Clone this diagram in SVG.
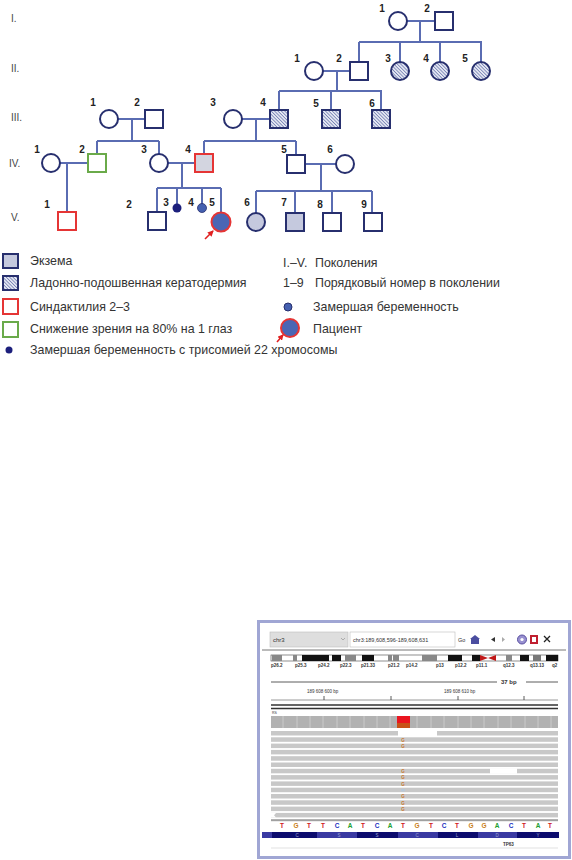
<svg xmlns="http://www.w3.org/2000/svg" width="572" height="860" viewBox="0 0 572 860">
<defs>
<pattern id="hatch" width="2.4" height="2.4" patternUnits="userSpaceOnUse" patternTransform="rotate(-45)">
<rect width="2.4" height="2.4" fill="#e4e7f2"/>
<line x1="0" y1="0" x2="0" y2="2.4" stroke="#45549a" stroke-width="1.1"/>
</pattern>
<marker id="arr" markerWidth="6" markerHeight="6" refX="5" refY="3" orient="auto" markerUnits="userSpaceOnUse">
<path d="M0,0 L6,3 L0,6 Z" fill="#e02020"/>
</marker>
</defs>
<style>
.ln{stroke:#5a6cb2;stroke-width:2;fill:none}
.sh{stroke:#272f6e;stroke-width:2;fill:#fff}
.hat{fill:url(#hatch)}
.ecz{fill:#c5c9de}
.red{stroke:#e53535}
.grn{stroke:#6aaa4a}
.num{font-family:"Liberation Sans",Arial,sans-serif;font-size:10px;font-weight:bold;fill:#222;text-anchor:middle}
.gen{font-family:"Liberation Sans",Arial,sans-serif;font-size:10px;fill:#444}
.lg{font-family:"Liberation Sans",Arial,sans-serif;font-size:12.4px;fill:#333}
.igv{font-family:"Liberation Sans",Arial,sans-serif;fill:#333}
.band{font-family:"Liberation Sans",Arial,sans-serif;font-size:4.5px;font-weight:bold;fill:#333}
.nt{font-family:"Liberation Sans",Arial,sans-serif;font-size:6.5px;font-weight:bold;text-anchor:middle}
.read{fill:#c8c8c8}
.mm{font-family:"Liberation Sans",Arial,sans-serif;font-size:4.5px;font-weight:bold;fill:#c87830;text-anchor:middle}
.arr{stroke:#e02020;stroke-width:1.6;fill:none}
</style>

<!-- generation labels -->
<g id="generations">
<text class="gen" x="11" y="22">I.</text>
<text class="gen" x="11" y="72">II.</text>
<text class="gen" x="11" y="121">III.</text>
<text class="gen" x="9" y="167">IV.</text>
<text class="gen" x="11" y="221">V.</text>
</g>

<!-- connectors -->
<g id="connectors">
<path class="ln" d="M407,21 H435 M420,21 V42 M359,42 H482 M359,42 V62 M400,42 V62 M440,42 V62 M481,42 V62"/>
<path class="ln" d="M323,71 H350 M337,71 V91 M279,91 H382 M279,91 V110 M331,91 V110 M381,91 V110"/>
<path class="ln" d="M118,119 H145 M132,119 V141 M97,141 H159 M97,141 V154 M159,141 V154"/>
<path class="ln" d="M242,119 H270 M256,119 V141 M204,141 H296 M204,141 V154 M296,141 V155"/>
<path class="ln" d="M60,163 H88 M67,163 V212"/>
<path class="ln" d="M168,163 H195 M182,163 V188 M157,188 H221 M157,188 V212 M177,188 V204 M202,188 V204 M221,188 V213"/>
<path class="ln" d="M305,164 H336 M321,164 V191 M256,191 H372 M256,191 V213 M295,191 V213 M332,191 V213 M372,191 V213"/>
</g>

<!-- Generation I -->
<g id="I-1"><circle class="sh" cx="398" cy="21" r="9"/><text class="num" x="382" y="12">1</text></g>
<g id="I-2"><rect class="sh" x="435" y="12" width="18" height="18"/><text class="num" x="427" y="12">2</text></g>

<!-- Generation II -->
<g id="II-1"><circle class="sh" cx="314" cy="71" r="9"/><text class="num" x="297" y="62">1</text></g>
<g id="II-2"><rect class="sh" x="350" y="62" width="18" height="18"/><text class="num" x="339" y="62">2</text></g>
<g id="II-3"><circle class="sh hat" cx="400" cy="71" r="9"/><text class="num" x="388" y="62">3</text></g>
<g id="II-4"><circle class="sh hat" cx="440" cy="71" r="9"/><text class="num" x="426" y="62">4</text></g>
<g id="II-5"><circle class="sh hat" cx="481" cy="71" r="9"/><text class="num" x="465" y="62">5</text></g>

<!-- Generation III -->
<g id="III-1"><circle class="sh" cx="109" cy="119" r="9"/><text class="num" x="93" y="106">1</text></g>
<g id="III-2"><rect class="sh" x="145" y="110" width="18" height="18"/><text class="num" x="137" y="106">2</text></g>
<g id="III-3"><circle class="sh" cx="233" cy="119" r="9"/><text class="num" x="213" y="106">3</text></g>
<g id="III-4"><rect class="sh hat" x="270" y="110" width="18" height="18"/><text class="num" x="263" y="106">4</text></g>
<g id="III-5"><rect class="sh hat" x="322" y="110" width="18" height="18"/><text class="num" x="316" y="107">5</text></g>
<g id="III-6"><rect class="sh hat" x="372" y="110" width="18" height="18"/><text class="num" x="372" y="107">6</text></g>

<!-- Generation IV -->
<g id="IV-1"><circle class="sh" cx="51" cy="163" r="9"/><text class="num" x="37" y="153">1</text></g>
<g id="IV-2"><rect class="sh grn" x="88" y="154" width="18" height="18"/><text class="num" x="82" y="153">2</text></g>
<g id="IV-3"><circle class="sh" cx="159" cy="163" r="9"/><text class="num" x="144" y="153">3</text></g>
<g id="IV-4"><rect class="sh red" x="195" y="154" width="18" height="18" style="fill:#d3d5e0"/><text class="num" x="188" y="153">4</text></g>
<g id="IV-5"><rect class="sh" x="287" y="155" width="18" height="18"/><text class="num" x="284" y="153">5</text></g>
<g id="IV-6"><circle class="sh" cx="345" cy="164" r="9"/><text class="num" x="330" y="153">6</text></g>

<!-- Generation V -->
<g id="V-1"><rect class="sh red" x="58" y="212" width="18" height="18"/><text class="num" x="47" y="208">1</text></g>
<g id="V-2"><rect class="sh" x="148" y="212" width="18" height="18"/><text class="num" x="129" y="208">2</text></g>
<g id="V-3"><circle cx="177" cy="208" r="4.5" fill="#1c1f7c"/><text class="num" x="166" y="206">3</text></g>
<g id="V-4"><circle cx="202" cy="208" r="4.5" fill="#4560b0" stroke="#272f6e" stroke-width="0.8"/><text class="num" x="191" y="206">4</text></g>
<g id="V-5"><circle cx="221" cy="222" r="9.5" fill="#4a66b4" stroke="#e53535" stroke-width="2"/><text class="num" x="212" y="206">5</text>
<line class="arr" x1="205" y1="239" x2="213" y2="231" marker-end="url(#arr)"/></g>
<g id="V-6"><circle class="sh ecz" cx="256" cy="222" r="9"/><text class="num" x="247" y="206">6</text></g>
<g id="V-7"><rect class="sh ecz" x="286" y="213" width="18" height="18"/><text class="num" x="284" y="206">7</text></g>
<g id="V-8"><rect class="sh" x="323" y="213" width="18" height="18"/><text class="num" x="320" y="208">8</text></g>
<g id="V-9"><rect class="sh" x="364" y="213" width="18" height="18"/><text class="num" x="364" y="208">9</text></g>

<!-- Legend -->
<g id="legend">
<rect class="sh ecz" x="3" y="254" width="15" height="14"/>
<text class="lg" x="30" y="265">Экзема</text>
<rect class="sh hat" x="3" y="276" width="15" height="14"/>
<text class="lg" x="30" y="287">Ладонно-подошвенная кератодермия</text>
<rect class="sh red" x="3" y="299" width="15" height="15"/>
<text class="lg" x="30" y="311">Синдактилия 2–3</text>
<rect class="sh grn" x="3" y="322" width="15" height="15"/>
<text class="lg" x="30" y="333">Снижение зрения на 80% на 1 глаз</text>
<circle cx="9" cy="350" r="3.5" fill="#1c1f7c"/>
<text class="lg" x="30" y="354">Замершая беременность с трисомией 22 хромосомы</text>
<text class="lg" x="283" y="267">I.–V.</text>
<text class="lg" x="315" y="267">Поколения</text>
<text class="lg" x="283" y="287">1–9</text>
<text class="lg" x="315" y="287">Порядковый номер в поколении</text>
<circle cx="288" cy="307" r="4" fill="#4560b0" stroke="#272f6e" stroke-width="1"/>
<text class="lg" x="313" y="311">Замершая беременность</text>
<circle cx="290" cy="328" r="9" fill="#4a66b4" stroke="#e53535" stroke-width="2"/>
<text class="lg" x="313" y="333">Пациент</text>
<line class="arr" x1="277" y1="342" x2="283" y2="335" marker-end="url(#arr)"/>
</g>

<!-- IGV screenshot -->
<g id="igv">
<rect x="258.5" y="621.5" width="311" height="236" fill="#fff" stroke="#a0a6d4" stroke-width="3"/>
<rect x="270" y="632" width="78" height="15" fill="#dedede" stroke="#bdbdbd" stroke-width="0.6"/>
<text class="igv" x="273" y="642" font-size="6">chr3</text>
<path d="M341,638 l2,2 l2,-2" stroke="#888" stroke-width="0.6" fill="none"/>
<rect x="350" y="632" width="105" height="15" fill="#fff" stroke="#bdbdbd" stroke-width="0.6"/>
<text class="igv" x="353" y="642" font-size="5.5">chr3:189,608,596-189,608,631</text>
<text class="igv" x="458" y="642" font-size="5.5">Go</text>
<path d="M470,639 l5,-4 l5,4 z M471,639 h8 v5 h-8 z" fill="#4b4ea0"/>
<path d="M495,637 l-4,2.5 l4,2.5 z" fill="#333"/>
<path d="M502,637 l3,2.5 l-3,2.5 z" fill="#aaa"/>
<circle cx="522" cy="639.5" r="4.5" fill="#9890d0" stroke="#5a50a0" stroke-width="1"/>
<circle cx="522" cy="639.5" r="1.6" fill="#fff"/>
<rect x="530" y="635" width="8" height="9" fill="#c02030"/>
<rect x="532" y="637" width="4" height="5" fill="#fff"/>
<path d="M544,636 l6,6 M550,636 l-6,6" stroke="#222" stroke-width="1.3"/>
<line x1="262" y1="650" x2="566" y2="650" stroke="#777" stroke-width="1"/>
<rect x="271" y="655" width="287" height="6" fill="#fff" stroke="#444" stroke-width="0.6"/>
<rect x="272" y="655" width="10" height="6" fill="#888"/>
<rect x="293" y="655" width="4" height="6" fill="#888"/>
<rect x="302" y="655" width="27" height="6" fill="#111"/>
<rect x="332" y="655" width="9" height="6" fill="#111"/>
<rect x="345" y="655" width="11" height="6" fill="#888"/>
<rect x="362" y="655" width="12" height="6" fill="#111"/>
<rect x="388" y="655" width="4" height="6" fill="#888"/>
<rect x="393" y="655" width="6" height="6" fill="#888"/>
<rect x="422" y="655" width="15" height="6" fill="#888"/>
<rect x="448" y="655" width="14" height="6" fill="#111"/>
<rect x="472" y="655" width="8" height="6" fill="#111"/>
<path d="M480,655 L488,658 L480,661 Z M496,655 L488,658 L496,661 Z" fill="#c01818"/>
<rect x="506" y="655" width="6" height="6" fill="#888"/>
<rect x="520" y="655" width="9" height="6" fill="#111"/>
<rect x="533" y="655" width="8" height="6" fill="#777"/>
<rect x="546" y="655" width="12" height="6" fill="#111"/>
<text class="band" x="271" y="667">p26.2</text>
<text class="band" x="295" y="667">p25.3</text>
<text class="band" x="318" y="667">p24.2</text>
<text class="band" x="340" y="667">p22.3</text>
<text class="band" x="361" y="667">p21.33</text>
<text class="band" x="388" y="667">p21.2</text>
<text class="band" x="406" y="667">p14.2</text>
<text class="band" x="436" y="667">p13</text>
<text class="band" x="455" y="667">p12.2</text>
<text class="band" x="476" y="667">p11.1</text>
<text class="band" x="503" y="667">q12.3</text>
<text class="band" x="530" y="667">q13.13</text>
<text class="band" x="552" y="667">q2</text>
<line x1="271" y1="682" x2="497" y2="682" stroke="#333" stroke-width="0.8"/>
<text class="igv" x="501" y="684" font-size="6" font-weight="bold">37 bp</text>
<line x1="526" y1="682" x2="558" y2="682" stroke="#333" stroke-width="0.8"/>
<text class="igv" x="307" y="693" font-size="4.5">189 608 600 bp</text>
<text class="igv" x="444" y="693" font-size="4.5">189 608 610 bp</text>
<line x1="271" y1="700" x2="558" y2="700" stroke="#555" stroke-width="0.6"/>
<path d="M324,696 V700 M391,696 V700 M458,696 V700 M524,696 V700" stroke="#333" stroke-width="0.8"/>
<line x1="271" y1="705" x2="558" y2="705" stroke="#333" stroke-width="1.5"/>
<line x1="271" y1="708.5" x2="558" y2="708.5" stroke="#333" stroke-width="1.5"/>
<text class="igv" x="272" y="714" font-size="3.5">RS</text>
<rect x="271" y="716" width="287" height="12" fill="#b2b2b2"/>
<path d="M283,716 V728 M297,716 V728 M310,716 V728 M323,716 V728 M337,716 V728 M350,716 V728 M364,716 V728 M377,716 V728 M390,716 V728 M417,716 V728 M431,716 V728 M444,716 V728 M458,716 V728 M471,716 V728 M484,716 V728 M498,716 V728 M511,716 V728 M525,716 V728 M538,716 V728 M551,716 V728" stroke="#d2d2d2" stroke-width="0.8"/>
<rect x="397" y="716" width="13" height="7" fill="#ea1520"/>
<rect x="397" y="723" width="13" height="5" fill="#c85218"/>
<rect class="read" x="271" y="731" width="287" height="4.5"/>
<rect x="398" y="730.5" width="39" height="5.5" fill="#fff"/>
<rect class="read" x="271" y="737.3" width="287" height="4.5"/>
<rect class="read" x="271" y="743.6" width="287" height="4.5"/>
<rect class="read" x="271" y="749.9" width="287" height="4.5"/>
<rect class="read" x="271" y="756.2" width="287" height="4.5"/>
<rect class="read" x="271" y="762.5" width="287" height="4.5"/>
<rect class="read" x="271" y="768.8" width="287" height="4.5"/>
<rect x="490" y="768.3" width="27" height="5.5" fill="#fff"/>
<rect class="read" x="271" y="775.1" width="287" height="4.5"/>
<rect class="read" x="271" y="781.4" width="287" height="4.5"/>
<rect class="read" x="271" y="787.7" width="287" height="4.5"/>
<rect class="read" x="271" y="794" width="287" height="4.5"/>
<rect class="read" x="271" y="800.3" width="287" height="4.5"/>
<rect class="read" x="271" y="806.6" width="287" height="4.5"/>
<rect class="read" x="271" y="812.9" width="287" height="4.5"/>
<path d="M271,812.9 h5 l-2,2.25 l2,2.25 h-5 z" fill="#fff"/>
<rect x="271" y="819.2" width="287" height="2" fill="#a0a0a0"/>
<rect x="401" y="789" width="4" height="2.5" fill="#b8c8d8"/>
<text class="mm" x="403" y="741.5">G</text>
<text class="mm" x="403" y="747.8">G</text>
<text class="mm" x="403" y="773">G</text>
<text class="mm" x="403" y="779.3">G</text>
<text class="mm" x="403" y="785.6">G</text>
<text class="mm" x="403" y="798.2">G</text>
<text class="mm" x="403" y="804.5">G</text>
<text class="mm" x="403" y="810.8">G</text>
<g id="sequence">
<text class="nt" x="282" y="828" fill="#d02020">T</text>
<text class="nt" x="296" y="828" fill="#c88020">G</text>
<text class="nt" x="309" y="828" fill="#d02020">T</text>
<text class="nt" x="323" y="828" fill="#d02020">T</text>
<text class="nt" x="337" y="828" fill="#2030c0">C</text>
<text class="nt" x="350" y="828" fill="#20a030">A</text>
<text class="nt" x="363" y="828" fill="#d02020">T</text>
<text class="nt" x="377" y="828" fill="#2030c0">C</text>
<text class="nt" x="390" y="828" fill="#20a030">A</text>
<text class="nt" x="403" y="828" fill="#d02020">T</text>
<text class="nt" x="417" y="828" fill="#c88020">G</text>
<text class="nt" x="431" y="828" fill="#d02020">T</text>
<text class="nt" x="444" y="828" fill="#2030c0">C</text>
<text class="nt" x="457" y="828" fill="#d02020">T</text>
<text class="nt" x="471" y="828" fill="#c88020">G</text>
<text class="nt" x="484" y="828" fill="#c88020">G</text>
<text class="nt" x="497" y="828" fill="#20a030">A</text>
<text class="nt" x="511" y="828" fill="#2030c0">C</text>
<text class="nt" x="524" y="828" fill="#d02020">T</text>
<text class="nt" x="538" y="828" fill="#20a030">A</text>
<text class="nt" x="550" y="828" fill="#d02020">T</text>
</g>
<rect x="262" y="832" width="297" height="6" fill="#3a3aa2"/>
<rect x="272" y="832" width="45" height="6" fill="#0c0c6e"/>
<rect x="357" y="832" width="41" height="6" fill="#0c0c6e"/>
<rect x="438" y="832" width="40" height="6" fill="#0c0c6e"/>
<rect x="517" y="832" width="42" height="6" fill="#0c0c6e"/>
<g font-family="Liberation Sans, Arial, sans-serif" font-size="4.5" fill="#9aa0d0" text-anchor="middle">
<text x="297" y="836.6">C</text>
<text x="339" y="836.6">S</text>
<text x="377" y="836.6">S</text>
<text x="417" y="836.6">C</text>
<text x="457" y="836.6">L</text>
<text x="497" y="836.6">D</text>
<text x="538" y="836.6">Y</text>
</g>
<line x1="271" y1="848" x2="558" y2="848" stroke="#ccc" stroke-width="0.6"/>
<text class="igv" x="503" y="846" font-size="4.5" font-weight="bold">TP63</text>
</g>
</svg>
